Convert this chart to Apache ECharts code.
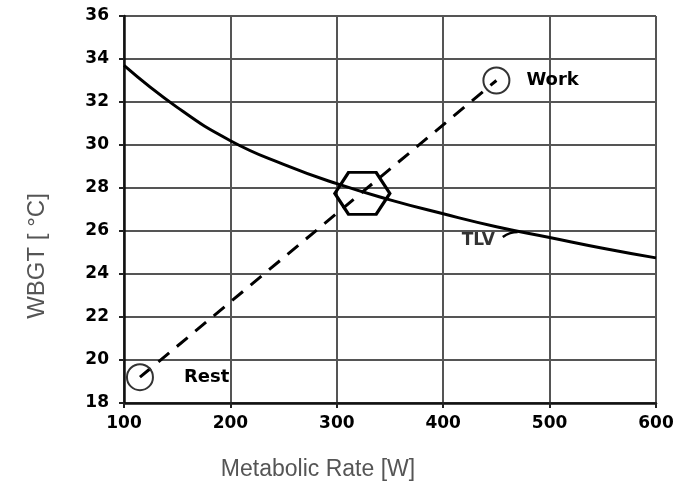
<!DOCTYPE html>
<html>
<head>
<meta charset="utf-8">
<script src="https://cdn.jsdelivr.net/npm/echarts@6/dist/echarts.min.js"></script>
<style>html,body{margin:0;padding:0;background:#fff;}#c{width:681px;height:500px;}</style>
</head>
<body>
<div id="c"></div>
<script>
// TLV curve (metabolic rate W, WBGT °C)
const tlvRate = [100, 150, 200, 250, 300, 350, 400, 450, 500, 550, 600];
const tlvWBGT = [33.7, 31.75, 30.2, 29.1, 28.2, 27.45, 26.8, 26.2, 25.7, 25.2, 24.75];
// Rest -> Work path
const pathRate = [115, 450];
const pathWBGT = [19.2, 33.0];
const pointNames = ['Rest', 'Work'];
// intersection marker
const crossRate = [324];
const crossWBGT = [27.75];
// TLV label anchor and leader
const tlvLabel = ['TLV'];
const tlvLabelRate = [433];
const tlvLabelWBGT = [25.55];
const leaderRate = [456, 463, 470];
const leaderWBGT = [25.72, 25.9, 25.95];

const xTitle = 'Metabolic Rate [W]';

const chart = echarts.init(document.getElementById('c'), null, {renderer: 'canvas'});
const zip = (a, b) => a.map((v, i) => [v, b[i]]);
const tickFont = {fontFamily: 'DejaVu Sans', fontWeight: 'bold', fontSize: 17, color: '#000'};
const markFont = {fontFamily: 'DejaVu Sans', fontWeight: 'bold', fontSize: 18, color: '#000'};

chart.setOption({
  animation: false,
  backgroundColor: '#fff',
  grid: {left: 124, right: 25, top: 16, bottom: 97, containLabel: false},
  xAxis: {
    type: 'value', min: 100, max: 600, interval: 100,
    axisLine: {show: true, onZero: false, lineStyle: {color: '#111', width: 2.5}},
    axisTick: {show: true, length: 5, lineStyle: {color: '#222', width: 2}},
    axisLabel: Object.assign({margin: 12}, tickFont),
    splitLine: {show: true, lineStyle: {color: '#555', width: 2}}
  },
  yAxis: {
    type: 'value', min: 18, max: 36, interval: 2,
    axisLine: {show: true, onZero: false, lineStyle: {color: '#111', width: 2.5}},
    axisTick: {show: true, length: 5, lineStyle: {color: '#222', width: 2}},
    axisLabel: Object.assign({margin: 15}, tickFont),
    splitLine: {show: true, lineStyle: {color: '#555', width: 2}}
  },
  graphic: [
    {type: 'text', x: 318, y: 470, style: {text: xTitle, align: 'center', verticalAlign: 'middle',
      fontFamily: 'Liberation Sans', fontSize: 23, fill: '#555'}},
    {type: 'text', rotation: Math.PI / 2, x: 37, y: 256, style: {
      text: 'WBGT [ °C]', align: 'center', verticalAlign: 'middle',
      fontFamily: 'Liberation Sans', fontSize: 24, fill: '#555'}}
  ],
  series: [
    {
      type: 'line', data: zip(tlvRate, tlvWBGT), smooth: true, symbol: 'none',
      lineStyle: {color: '#000', width: 3}, z: 5
    },
    {
      type: 'line', data: zip(pathRate, pathWBGT), symbol: 'none',
      lineStyle: {color: '#000', width: 3, type: [14, 10]}, z: 5
    },
    {
      type: 'scatter', data: zip(pathRate, pathWBGT).map((d, i) => ({value: d, name: pointNames[i],
        label: {distance: i === 0 ? 30 : 16}})),
      symbol: 'circle', symbolSize: 26,
      itemStyle: {color: 'rgba(0,0,0,0)', borderColor: '#333', borderWidth: 2, opacity: 1},
      label: Object.assign({show: true, position: 'right', formatter: p => p.name}, markFont),
      z: 6
    },
    {
      type: 'scatter', data: zip(crossRate, crossWBGT),
      symbol: 'path://M25,0 L75,0 L100,50 L75,100 L25,100 L0,50 Z', symbolSize: [55, 42],
      itemStyle: {color: 'rgba(0,0,0,0)', borderColor: '#000', borderWidth: 3, opacity: 1}, z: 7
    },
    {
      type: 'scatter', data: zip(tlvLabelRate, tlvLabelWBGT).map((d, i) => ({value: d, name: tlvLabel[i]})),
      symbolSize: 0,
      label: Object.assign({show: true, position: 'inside', formatter: p => p.name}, markFont, {fontSize: 17})
    },
    {
      type: 'line', data: zip(leaderRate, leaderWBGT), smooth: true, symbol: 'none',
      lineStyle: {color: '#000', width: 2.5}
    }
  ]
});
</script>
</body>
</html>
